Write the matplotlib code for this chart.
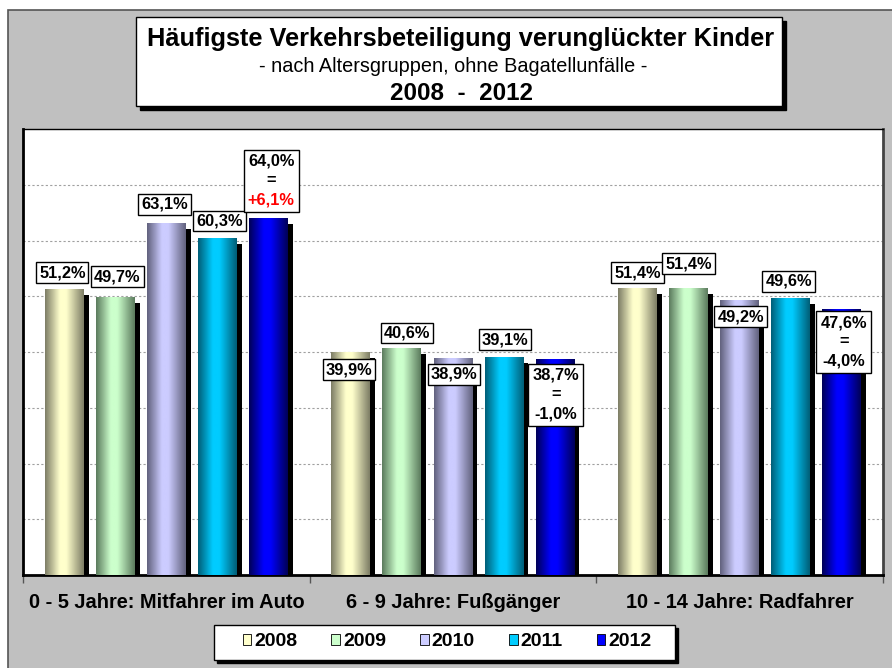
import matplotlib
matplotlib.use('Agg')
import matplotlib.pyplot as plt
import numpy as np
from matplotlib.colors import LinearSegmentedColormap
from matplotlib.patches import Rectangle, Patch
from matplotlib.offsetbox import AnnotationBbox, TextArea, VPacker

plt.rcParams['font.family'] = ['Liberation Sans', 'DejaVu Sans']

# ── Daten ──────────────────────────────────────────────────────
categories = ['0 - 5 Jahre: Mitfahrer im Auto', '6 - 9 Jahre: Fußgänger',
              '10 - 14 Jahre: Radfahrer']
years = ['2008', '2009', '2010', '2011', '2012']
v2008 = [51.2, 39.9, 51.4]
v2009 = [49.7, 40.6, 51.4]
v2010 = [63.1, 38.9, 49.2]
v2011 = [60.3, 39.1, 49.6]
v2012 = [64.0, 38.7, 47.6]
change_2012 = ['+6,1%', '-1,0%', '-4,0%']
change_colors = ['red', 'black', 'black']

# ── Stil ───────────────────────────────────────────────────────
LIGHT = ['#FFFFCC', '#CCFFCC', '#CCCCFF', '#00CCFF', '#0000FF']
DARK = ['#7E7E66', '#5C7C5E', '#62627E', '#005F78', '#000058']
BG = '#C0C0C0'
BAR_W = 0.136
PITCH = 0.178
LBL_SIZE = 11.8

# Label-Offsets (dx in Kategorieeinheiten, dy in %-Punkten)
label_dx = [[-0.007, 0.007, -0.007, 0.007, 0.01],
            [-0.007, 0.017, 0.003, 0.003, 0.003],
            [0.0, 0.0, 0.003, -0.007, 0.007]]
label_dy = [[3.0, 3.8, 3.4, 3.2, 6.7],
            [-3.1, 2.8, -2.9, 3.1, -6.4],
            [2.8, 4.4, -2.9, 3.1, -5.8]]

fig = plt.figure(figsize=(8.92, 6.68), dpi=100, facecolor='white')
W, H = 892, 668


def fx(px):
    return px / W


def fy(py):
    return 1 - py / H


def shadow_box(x0, y0, x1, y1, off=4):
    """Weiße Box mit schwarzem Schatten (Pixelkoordinaten, y nach unten)."""
    fig.patches.append(Rectangle((fx(x0 + off), fy(y1 + off)), fx(x1 - x0), (y1 - y0) / H,
                                 transform=fig.transFigure, facecolor='black',
                                 edgecolor='black', zorder=1))
    fig.patches.append(Rectangle((fx(x0), fy(y1)), fx(x1 - x0), (y1 - y0) / H,
                                 transform=fig.transFigure, facecolor='white',
                                 edgecolor='black', linewidth=1, zorder=2))


# grauer Hintergrund mit Rahmen (rechts/unten abgeschnitten)
fig.patches.append(Rectangle((fx(8), -0.05), 1.1, fy(10) + 0.05, transform=fig.transFigure,
                             facecolor=BG, edgecolor='#555555', linewidth=1.2, zorder=-5))

# Titelbox
shadow_box(136, 17, 782, 106)
fig.text(fx(461), fy(39), 'Häufigste Verkehrsbeteiligung verunglückter Kinder',
         ha='center', va='center', fontsize=18.3, fontweight='bold', zorder=3)
fig.text(fx(453), fy(66), '- nach Altersgruppen, ohne Bagatellunfälle -',
         ha='center', va='center', fontsize=14.3, zorder=3)
fig.text(fx(461), fy(93), '2008  -  2012', ha='center', va='center',
         fontsize=17.5, fontweight='bold', zorder=3)

ax = fig.add_axes([fx(23), fy(575), fx(883) - fx(23), (575 - 129) / H])
ax.set_facecolor('white')

series = [v2008, v2009, v2010, v2011, v2012]
x = np.arange(len(categories))
lbl_font = dict(fontsize=LBL_SIZE, fontweight='bold')

for i, vals in enumerate(series):
    cmap = LinearSegmentedColormap.from_list(
        f'g{i}', [(0.0, DARK[i]), (0.38, LIGHT[i]), (0.55, LIGHT[i]), (1.0, DARK[i])])
    xs = x + (i - 2) * PITCH
    # Schatten
    ax.bar(xs + 0.017, np.array(vals) - 1.0, BAR_W, color='black', zorder=2)
    bars = ax.bar(xs, vals, BAR_W, color='none', zorder=3)
    for b in bars:
        x0, w, h = b.get_x(), b.get_width(), b.get_height()
        ax.imshow(np.linspace(0, 1, 64)[None, :], cmap=cmap, aspect='auto',
                  extent=[x0, x0 + w, 0, h], zorder=3, interpolation='bicubic')

    for j, v in enumerate(vals):
        txt = f'{v:.1f}%'.replace('.', ',')
        tx = xs[j] + label_dx[j][i]
        ty = v + label_dy[j][i]
        if i == 4:
            # dreizeiliges Label: Wert, "=", Veränderung (ggf. rot)
            lines = [TextArea(txt, textprops=dict(color='black', **lbl_font)),
                     TextArea('=', textprops=dict(color='black', **lbl_font)),
                     TextArea(change_2012[j], textprops=dict(color=change_colors[j], **lbl_font))]
            pack = VPacker(children=lines, align='center', pad=0, sep=3.2)
            ab = AnnotationBbox(pack, (tx, ty), xycoords='data', box_alignment=(0.5, 0.5),
                                frameon=True, pad=0.2,
                                bboxprops=dict(boxstyle='square', facecolor='white',
                                               edgecolor='black', linewidth=1))
            ab.set_zorder(6)
            ax.add_artist(ab)
        else:
            ax.text(tx, ty, txt, ha='center', va='center', bbox=dict(
                boxstyle='square,pad=0.18', facecolor='white', edgecolor='black',
                linewidth=1), zorder=6, **lbl_font)

ax.set_xlim(-0.5, 2.5)
ax.set_ylim(0, 80)
ax.set_yticks(np.arange(10, 80, 10))
ax.yaxis.grid(True, linestyle=(0, (2, 2)), color='#A0A0A0', linewidth=0.8)
ax.set_axisbelow(True)
ax.tick_params(axis='y', length=0, labelleft=False)

ax.set_xticks(x)
ax.set_xticklabels(categories, fontsize=14.4, fontweight='bold')
ax.set_xticks([-0.5, 0.5, 1.5, 2.5], minor=True)
ax.tick_params(axis='x', which='major', length=0, pad=13)
ax.tick_params(axis='x', which='minor', length=6, color='#555555', width=1)

for side in ['left', 'bottom', 'top']:
    ax.spines[side].set_color('black')
ax.spines['left'].set_linewidth(2)
ax.spines['bottom'].set_linewidth(2)
ax.spines['top'].set_linewidth(1)
ax.spines['right'].set_color('#444444')
ax.spines['right'].set_linewidth(2)

# Legende
shadow_box(214, 625, 675, 660, off=3)
handles = [Patch(facecolor=LIGHT[i], edgecolor='black', linewidth=0.6) for i in range(5)]
leg = fig.legend(handles, years, loc='center', bbox_to_anchor=(fx(447), fy(642)),
                 ncol=5, frameon=False, handlelength=0.45, handleheight=0.45,
                 handletextpad=0.15, columnspacing=1.75, borderpad=0.2,
                 prop={'weight': 'bold', 'size': 14})
leg.set_zorder(4)

fig.savefig('out.png', dpi=100, facecolor=fig.get_facecolor())
